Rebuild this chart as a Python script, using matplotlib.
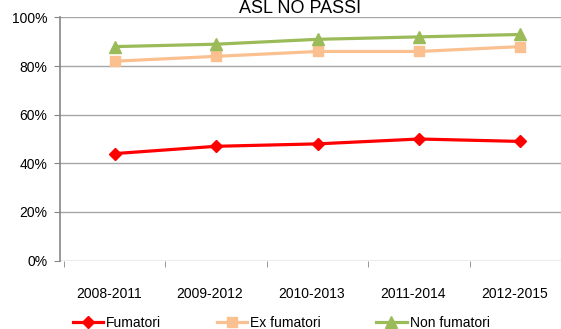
import matplotlib
matplotlib.use("Agg")
import matplotlib.pyplot as plt
import matplotlib.ticker as mticker
import numpy as np

periods = ["2008-2011", "2009-2012", "2010-2013", "2011-2014", "2012-2015"]
fumatori = [44, 47, 48, 50, 49]
ex_fumatori = [82, 84, 86, 86, 88]
non_fumatori = [88, 89, 91, 92, 93]

plt.rcParams.update({
    "font.family": ["Liberation Sans", "DejaVu Sans"],
    "font.size": 10,
})

fig = plt.figure(figsize=(5.61, 3.29), dpi=100)
ax = fig.add_axes([0.107, 0.208, 0.893, 0.739])

x = np.arange(len(periods))
ax.plot(x, fumatori, "-D", color="#FF0000", lw=2.3, ms=6.5, label="Fumatori")
ax.plot(x, ex_fumatori, "-s", color="#FAC090", lw=2.3, ms=7.5, label="Ex fumatori")
ax.plot(x, non_fumatori, "-^", color="#9BBB59", lw=2.3, ms=8.5, label="Non fumatori")

ax.set_xlim(-0.54, 4.40)
ax.set_ylim(0, 100)
ax.set_yticks(np.arange(0, 101, 20))
ax.yaxis.set_major_formatter(mticker.FuncFormatter(lambda v, _: f"{v:.0f}%"))
ax.set_xticks(x - 0.06)
ax.set_xticklabels(periods)
ax.set_xticks(np.arange(-0.5, 4.5, 1), minor=True)
ax.tick_params(axis="x", which="major", length=0, pad=19)
ax.tick_params(axis="x", which="minor", length=4, color="#868686", direction="out")
ax.tick_params(axis="y", length=4, color="#868686", direction="out", pad=5)

ax.grid(axis="y", color="#A6A6A6", lw=1.0)
ax.set_axisbelow(True)
for s in ["top", "right", "bottom"]:
    ax.spines[s].set_visible(False)
ax.spines["left"].set_color("#868686")
ax.spines["left"].set_linewidth(1.2)

fig.text(0.535, 1.0, "ASL NO PASSI", ha="center", va="top", fontsize=13)

fig.legend(loc="lower left", bbox_to_anchor=(0.107, -0.04), ncol=3, frameon=False,
           handlelength=2.2, handletextpad=0.2, columnspacing=4.0, fontsize=10)

fig.savefig("out.png", dpi=100)
